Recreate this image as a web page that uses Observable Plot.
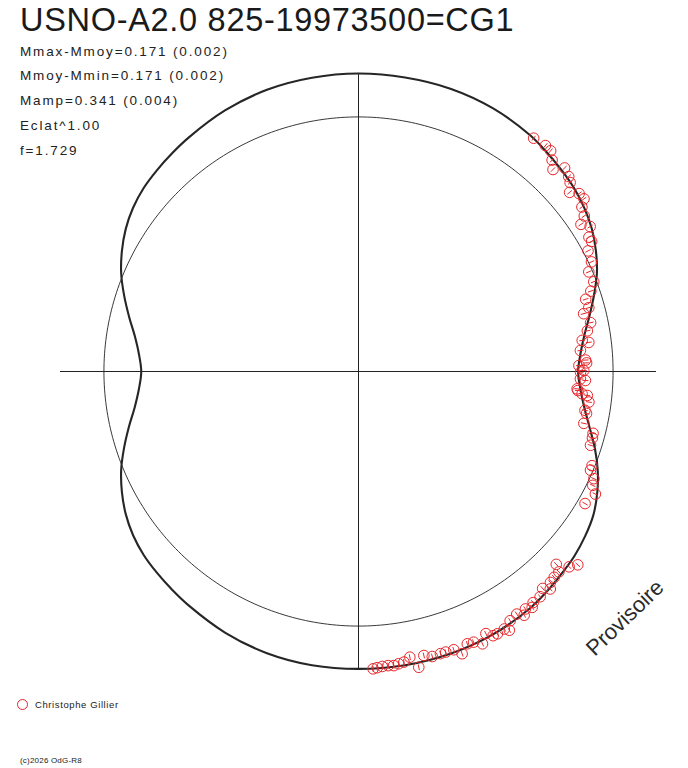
<!DOCTYPE html>
<html><head><meta charset="utf-8">
<script src="https://cdn.jsdelivr.net/npm/d3@7"></script>
<script src="https://cdn.jsdelivr.net/npm/@observablehq/plot@0.6"></script>
<style>
body{margin:0;background:#fff;}
#wrap{position:relative;width:688px;height:768px;overflow:hidden;font-family:"Liberation Sans",Arial,sans-serif;color:#1a1a1a;}
#wrap svg{position:absolute;left:0;top:0;}
.t{position:absolute;white-space:nowrap;}
</style></head><body><div id="wrap"></div>
<script>
// ---- texts ----
const title = "USNO-A2.0 825-19973500=CG1";
const statLines = ["Mmax-Mmoy=0.171 (0.002)", "Mmoy-Mmin=0.171 (0.002)", "Mamp=0.341 (0.004)", "Eclat^1.00", "f=1.729"];
const mmaxMinusMmoy = 0.171;
const observer = "Christophe Gillier";
const watermark = "Provisoire";
const footer = "(c)2026 OdG-R8";

// ---- fitted light curve: phase, relative brightness (max = 1) ----
const curvePhase = [0, 0.0125, 0.025, 0.0375, 0.05, 0.0625, 0.075, 0.0875, 0.1, 0.1125, 0.125, 0.1375, 0.15, 0.175, 0.2, 0.225,
  0.25, 0.275, 0.3, 0.325, 0.35, 0.3625, 0.375, 0.3875, 0.4, 0.4125, 0.425, 0.4375, 0.45, 0.4625, 0.475, 0.4875,
  0.5, 0.5125, 0.525, 0.5375, 0.55, 0.5625, 0.575, 0.5875, 0.6, 0.6125, 0.625, 0.6375, 0.65, 0.675, 0.7, 0.725,
  0.75, 0.775, 0.8, 0.825, 0.85, 0.8625, 0.875, 0.8875, 0.9, 0.9125, 0.925, 0.9375, 0.95, 0.9625, 0.975, 0.9875];
const curveFlux = [0.729, 0.739, 0.760, 0.792, 0.827, 0.862, 0.891, 0.916, 0.935, 0.948, 0.956, 0.963, 0.970, 0.984, 0.994, 0.998,
  1.000, 0.999, 0.998, 0.992, 0.980, 0.970, 0.960, 0.950, 0.936, 0.918, 0.894, 0.866, 0.831, 0.797, 0.767, 0.747,
  0.737, 0.747, 0.767, 0.797, 0.834, 0.869, 0.899, 0.924, 0.940, 0.953, 0.962, 0.972, 0.981, 0.991, 0.996, 0.998,
  0.998, 0.998, 0.994, 0.984, 0.970, 0.963, 0.956, 0.948, 0.935, 0.916, 0.891, 0.862, 0.827, 0.792, 0.760, 0.739];

// ---- observations: phase, relative brightness ----
const obsPhase = [0.3525, 0.360, 0.364, 0.368, 0.372, 0.376, 0.381, 0.384, 0.388, 0.392, 0.396, 0.399, 0.404, 0.407, 0.411,
  0.416, 0.419, 0.423, 0.430, 0.435, 0.442, 0.447, 0.451, 0.457, 0.460, 0.467, 0.472, 0.478, 0.480, 0.485, 0.492, 0.494,
  0.4957, 0.4993, 0.5005, 0.5053, 0.5063, 0.5126, 0.5138, 0.5158, 0.5166, 0.521, 0.527, 0.529, 0.536, 0.541, 0.544, 0.549,
  0.561, 0.564, 0.568, 0.572, 0.576, 0.584,
  0.615, 0.619, 0.623, 0.625, 0.629, 0.6325, 0.635, 0.638, 0.642, 0.647, 0.649, 0.6525, 0.655, 0.658, 0.663, 0.666, 0.668,
  0.6725, 0.675, 0.678, 0.682, 0.686, 0.6895, 0.694, 0.6975, 0.702, 0.705, 0.7097, 0.714, 0.718, 0.7217, 0.7253, 0.7283,
  0.731, 0.734, 0.7372, 0.740, 0.7422];
const obsFlux = [0.979, 0.984, 0.982, 0.962, 0.941, 0.972, 0.962, 0.952, 0.929, 0.951, 0.953, 0.931, 0.920, 0.895, 0.917,
  0.895, 0.896, 0.870, 0.864, 0.842, 0.845, 0.825, 0.800, 0.802, 0.780, 0.796, 0.780, 0.758, 0.779, 0.748, 0.763, 0.766,
  0.740, 0.756, 0.745, 0.745, 0.762, 0.736, 0.739, 0.754, 0.772, 0.780, 0.771, 0.778, 0.776, 0.814, 0.816, 0.817,
  0.845, 0.846, 0.868, 0.874, 0.895, 0.880,
  0.981, 0.964, 0.927, 0.951, 0.953, 0.957, 0.973, 0.955, 0.971, 0.972, 0.983, 0.974, 0.989, 0.972, 0.979, 1.005, 0.993,
  0.996, 0.995, 0.978, 1.004, 0.987, 0.984, 1.009, 0.987, 0.986, 0.986, 0.988, 0.978, 1.013, 0.974, 0.987, 0.990,
  0.994, 0.992, 0.993, 0.996, 0.999];
const obsErr = 0.010;

// ---- layout ----
const W = 688, H = 768, CX = 358, CY = 371, PX = 298;
const RED = "#e8262a";
const ang = p => Math.PI - 2 * Math.PI * p;

const curve = curvePhase.map((p, i) => ({x: curveFlux[i] * Math.cos(ang(p)), y: curveFlux[i] * Math.sin(ang(p))}));
const meanFlux = Math.pow(10, -0.4 * mmaxMinusMmoy);
const ring = d3.range(0, 360, 1).map(a => ({x: meanFlux * Math.cos(a * Math.PI / 180), y: meanFlux * Math.sin(a * Math.PI / 180)}));
const obs = obsPhase.map((p, i) => {
  const a = ang(p), f = obsFlux[i], c = Math.cos(a), s = Math.sin(a);
  return {x: f * c, y: f * s, x1: (f - obsErr) * c, y1: (f - obsErr) * s, x2: (f + obsErr) * c, y2: (f + obsErr) * s};
});

const chart = Plot.plot({
  width: W, height: H, margin: 0,
  x: {domain: [-CX / PX, (W - CX) / PX], axis: null},
  y: {domain: [-(H - CY) / PX, CY / PX], axis: null},
  style: {background: "transparent"},
  marks: [
    Plot.ruleY([0], {x1: -1, x2: 1, stroke: "#222", strokeWidth: 1}),
    Plot.ruleX([0], {y1: -1, y2: 1, stroke: "#222", strokeWidth: 1}),
    Plot.line(ring, {x: "x", y: "y", curve: "linear-closed", stroke: "#222", strokeWidth: 0.9}),
    Plot.line(curve, {x: "x", y: "y", curve: "catmull-rom-closed", stroke: "#262626", strokeWidth: 2.1}),
    Plot.link(obs, {x1: "x1", y1: "y1", x2: "x2", y2: "y2", stroke: RED, strokeWidth: 1}),
    Plot.dot(obs, {x: "x", y: "y", r: 5.3, stroke: RED, fill: "none", strokeWidth: 1})
  ]
});
const wrap = document.getElementById("wrap");
wrap.appendChild(chart);

function addText(txt, css) {
  const d = document.createElement("div");
  d.className = "t";
  d.textContent = txt;
  Object.assign(d.style, css);
  wrap.appendChild(d);
  return d;
}
addText(title, {left: "20px", top: "4px", fontSize: "32.5px", lineHeight: "32.5px", letterSpacing: "0.7px", color: "#1a1a1a"});
statLines.forEach((s, i) => addText(s, {left: "20px", top: (39.5 + i * 24.8) + "px", fontSize: "13.5px", lineHeight: "24.8px", letterSpacing: "1.85px", color: "#222"}));
addText(watermark, {left: "625px", top: "618px", fontSize: "22px", lineHeight: "22px", color: "#2a2a2a", transformOrigin: "0 0", transform: "rotate(-44deg) translate(-50%, -50%)"});
const leg = document.createElement("div");
leg.className = "t";
Object.assign(leg.style, {left: "17px", top: "699px", width: "9px", height: "9px", border: "1px solid " + RED, borderRadius: "50%"});
wrap.appendChild(leg);
addText(observer, {left: "35px", top: "699px", fontSize: "9.5px", lineHeight: "12px", letterSpacing: "0.6px", color: "#222"});
addText(footer, {left: "20px", top: "756px", fontSize: "8px", lineHeight: "10px", letterSpacing: "0.2px", color: "#222"});
</script></body></html>
